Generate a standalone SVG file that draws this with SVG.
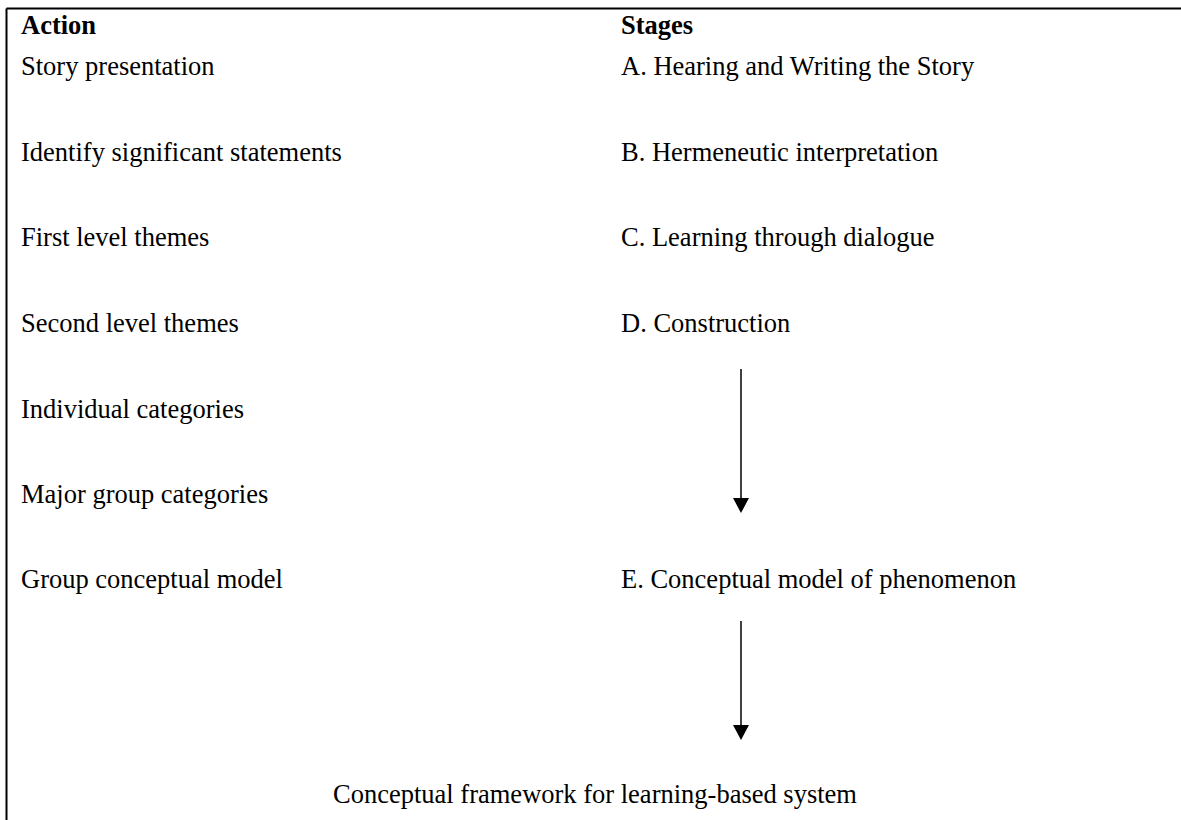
<svg xmlns="http://www.w3.org/2000/svg" width="1181" height="820" viewBox="0 0 1181 820">
<defs>
<style>
text{font-family:"Liberation Serif","Times New Roman",serif;font-size:26.5px;fill:#000}
.h{font-weight:bold}
.ln{stroke:#000;stroke-width:1.5;fill:none}
.fr{stroke:#000;stroke-width:2;fill:none}
</style>
<marker id="ah" markerWidth="16" markerHeight="16" viewBox="0 0 15 16" refX="8" refY="8" orient="auto" markerUnits="userSpaceOnUse">
<path d="M0,0 L15,8 L0,16 Z" fill="#000"/>
</marker>
</defs>
<rect width="1181" height="820" fill="#fff"/>
<g id="frame">
<line class="fr" x1="6.5" y1="8.5" x2="1181" y2="8.5"/>
<line class="fr" x1="6.5" y1="8.5" x2="6.5" y2="820"/>
</g>
<g id="headers">
<text class="h" x="21" y="34">Action</text>
<text class="h" x="621" y="34">Stages</text>
</g>
<g id="actions">
<text x="21" y="75">Story presentation</text>
<text x="21" y="161">Identify significant statements</text>
<text x="21" y="246">First level themes</text>
<text x="21" y="332">Second level themes</text>
<text x="21" y="418">Individual categories</text>
<text x="21" y="503">Major group categories</text>
<text x="21" y="588">Group conceptual model</text>
</g>
<g id="stageA"><text x="621" y="75">A. Hearing and Writing the Story</text></g>
<g id="stageB"><text x="621" y="161">B. Hermeneutic interpretation</text></g>
<g id="stageC"><text x="621" y="246">C. Learning through dialogue</text></g>
<g id="stageD"><text x="621" y="332">D. Construction</text></g>
<g id="stageE"><text x="621" y="588">E. Conceptual model of phenomenon</text></g>
<g id="result"><text x="595" y="803" text-anchor="middle">Conceptual framework for learning-based system</text></g>
<g id="connectors">
<line class="ln" x1="741" y1="369" x2="741" y2="506" marker-end="url(#ah)"/>
<line class="ln" x1="741" y1="621" x2="741" y2="733" marker-end="url(#ah)"/>
</g>
</svg>
